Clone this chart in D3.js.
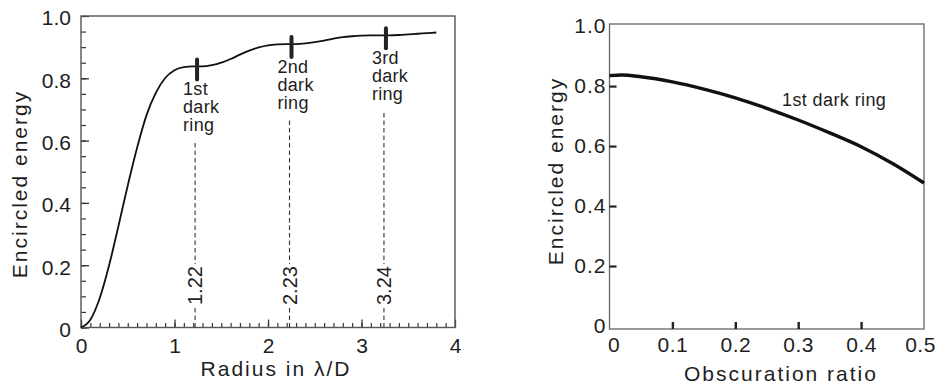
<!DOCTYPE html>
<html>
<head>
<meta charset="utf-8">
<script src="https://cdn.jsdelivr.net/npm/d3@7"></script>
<style>
  html, body { margin: 0; padding: 0; background: #fff; }
  svg { display: block; }
  text { font-family: "Liberation Sans", Arial, Helvetica, sans-serif; fill: #1e1e1e; }
</style>
</head>
<body>
<svg id="chart" width="937" height="385"></svg>
<script>
// ---------- data ----------
const radius = [0,0.1,0.2,0.3,0.4,0.5,0.6,0.7,0.8,0.9,1.0,1.1,1.2,1.3,1.4,1.5,1.6,1.7,1.8,1.9,
                2.0,2.1,2.2,2.3,2.4,2.5,2.6,2.7,2.8,2.9,3.0,3.1,3.2,3.3,3.4,3.5,3.6,3.7,3.8];
const energy = [0,0.025,0.094,0.199,0.325,0.456,0.577,0.681,0.753,0.801,0.826,0.836,0.838,0.838,
                0.842,0.850,0.862,0.876,0.889,0.899,0.906,0.909,0.910,0.910,0.912,0.916,0.921,
                0.927,0.932,0.935,0.937,0.938,0.938,0.938,0.939,0.941,0.943,0.945,0.947];
const ringRadius = [1.22, 2.23, 3.24];
const ringEnergy = [0.838, 0.910, 0.938];
const ringNames = [["1st","dark","ring"],["2nd","dark","ring"],["3rd","dark","ring"]];
const ringValueLabels = ["1.22","2.23","3.24"];
const xTicksLeft = [0,1,2,3,4];
const yTicksLeft = [0,0.2,0.4,0.6,0.8,1.0];
const yTickLabelsLeft = ["0","0.2","0.4","0.6","0.8","1.0"];

const obscuration = [0,0.02,0.05,0.1,0.15,0.2,0.25,0.3,0.35,0.4,0.45,0.5];
const obscEnergy  = [0.835,0.837,0.831,0.814,0.790,0.761,0.726,0.687,0.644,0.598,0.542,0.477];
const xTicksRight = [0,0.1,0.2,0.3,0.4,0.5];
const xTickLabelsRight = ["0","0.1","0.2","0.3","0.4","0.5"];
const yTicksRight = [0,0.2,0.4,0.6,0.8,1.0];
const yTickLabelsRight = ["0","0.2","0.4","0.6","0.8","1.0"];
const curveLabelRight = "1st dark ring";

// ---------- setup ----------
const svg = d3.select("#chart");
const frameColor = "#555";

// ===== Left panel =====
const x = d3.scaleLinear([0, 4], [81, 455]);
const y = d3.scaleLinear([0, 1], [327.5, 16]);
const L = svg.append("g");

// minor ticks
L.append("g").attr("transform", `translate(0,${y(0)})`)
  .call(d3.axisBottom(x).tickValues(d3.range(0, 40).map(i => i / 10)).tickSize(-4.5).tickFormat(""))
  .call(g => g.select(".domain").remove())
  .call(g => g.selectAll("line").attr("stroke", "#333").attr("stroke-width", 1.2));
L.append("g").attr("transform", `translate(0,${y(0)})`)
  .call(d3.axisBottom(x).tickValues(xTicksLeft).tickSize(-8).tickPadding(11).tickFormat(d3.format("d")))
  .call(g => g.select(".domain").remove())
  .call(g => g.selectAll("line").attr("stroke", "#333").attr("stroke-width", 1.3))
  .call(g => g.selectAll("text").attr("font-size", 21).attr("fill", "#1e1e1e").attr("font-family", null));

L.append("g").attr("transform", `translate(${x(0)},0)`)
  .call(d3.axisLeft(y).tickValues(d3.range(0, 20).map(i => i / 20)).tickSize(-5).tickFormat(""))
  .call(g => g.select(".domain").remove())
  .call(g => g.selectAll("line").attr("stroke", "#333").attr("stroke-width", 1.2));
L.append("g").attr("transform", `translate(${x(0)},0)`)
  .call(d3.axisLeft(y).tickValues(yTicksLeft).tickSize(-8).tickPadding(10).tickFormat((d, i) => yTickLabelsLeft[i]))
  .call(g => g.select(".domain").remove())
  .call(g => g.selectAll("line").attr("stroke", "#333").attr("stroke-width", 1.3))
  .call(g => g.selectAll("text").attr("font-size", 21).attr("fill", "#1e1e1e").attr("font-family", null).attr("dy", "0.42em"));

// frame
L.append("rect").attr("x", x(0)).attr("y", y(1)).attr("width", x(4) - x(0)).attr("height", y(0) - y(1))
  .attr("fill", "none").attr("stroke", frameColor).attr("stroke-width", 1.4);

// dashed verticals and rotated values
ringRadius.forEach((r, i) => {
  const xr = x(r);
  const base1 = y(ringEnergy[i]) + 29;
  const top = base1 + 46;
  L.append("line").attr("x1", xr).attr("x2", xr).attr("y1", y(0)).attr("y2", top)
    .attr("stroke", "#333").attr("stroke-width", 1.1).attr("stroke-dasharray", "4.5,3");
  const g = L.append("g").attr("transform", `translate(${xr},305) rotate(-90)`);
  const t = g.append("text").attr("x", 0).attr("y", 0).attr("dy", "0.36em")
    .attr("font-size", 20).text(ringValueLabels[i]);
  const bb = t.node().getBBox();
  g.insert("rect", "text").attr("x", bb.x - 2).attr("y", bb.y).attr("width", bb.width + 4).attr("height", bb.height)
    .attr("fill", "#fff");
  // ring name labels
  const lab = L.append("text").attr("x", xr - 12).attr("y", base1).attr("font-size", 18).style("letter-spacing", "0.3px");
  ringNames[i].forEach((w, k) => lab.append("tspan").attr("x", xr - 12).attr("y", base1 + k * 18).text(w));
});

// curve
L.append("path")
  .datum(radius.map((r, i) => [r, energy[i]]))
  .attr("d", d3.line().x(d => x(d[0])).y(d => y(d[1])).curve(d3.curveMonotoneX))
  .attr("fill", "none").attr("stroke", "#111").attr("stroke-width", 1.8);

// thick ring marks
ringRadius.forEach((r, i) => {
  L.append("line").attr("x1", x(r) + 2).attr("x2", x(r) + 2)
    .attr("y1", y(ringEnergy[i]) - 7).attr("y2", y(ringEnergy[i]) + 13)
    .attr("stroke", "#222").attr("stroke-width", 4).attr("stroke-linecap", "round");
});

// axis titles
L.append("text").attr("x", 276).attr("y", 376).attr("text-anchor", "middle")
  .attr("font-size", 21).style("letter-spacing", "2px").text("Radius in λ/D");
L.append("text").attr("transform", `translate(27,${184}) rotate(-90)`).attr("text-anchor", "middle")
  .attr("font-size", 21).style("letter-spacing", "2px").text("Encircled energy");

// ===== Right panel =====
const x2 = d3.scaleLinear([0, 0.5], [609.5, 924]);
const y2 = d3.scaleLinear([-0.01, 1.007], [329, 24]);
const R = svg.append("g");

R.append("rect").attr("x", x2(0)).attr("y", y2(1.007)).attr("width", x2(0.5) - x2(0)).attr("height", y2(-0.01) - y2(1.007))
  .attr("fill", "none").attr("stroke", "#666").attr("stroke-width", 1.3);

// x ticks
R.append("g").attr("transform", `translate(0,${y2(-0.01)})`)
  .call(d3.axisBottom(x2).tickValues(xTicksRight.slice(1, 5)).tickSize(-7).tickFormat(""))
  .call(g => g.select(".domain").remove())
  .call(g => g.selectAll("line").attr("stroke", "#222").attr("stroke-width", 2.4));
R.append("g").attr("transform", `translate(0,${y2(-0.01)})`)
  .call(d3.axisBottom(x2).tickValues(xTicksRight).tickSize(0).tickPadding(8).tickFormat((d, i) => xTickLabelsRight[i]))
  .call(g => g.select(".domain").remove())
  .call(g => g.selectAll("text").attr("font-size", 21).attr("fill", "#1e1e1e").attr("font-family", null).style("letter-spacing", "0.5px")
    .attr("dx", (d, i) => i === xTicksRight.length - 1 ? -4 : (i === 0 ? 4 : 0)));

// y ticks
R.append("g").attr("transform", `translate(${x2(0)},0)`)
  .call(d3.axisLeft(y2).tickValues(yTicksRight.slice(1, 5)).tickSize(-7).tickFormat(""))
  .call(g => g.select(".domain").remove())
  .call(g => g.selectAll("line").attr("stroke", "#222").attr("stroke-width", 2.2));
R.append("g").attr("transform", `translate(${x2(0)},0)`)
  .call(d3.axisLeft(y2).tickValues(yTicksRight).tickSize(0).tickPadding(3).tickFormat((d, i) => yTickLabelsRight[i]))
  .call(g => g.select(".domain").remove())
  .call(g => g.selectAll("text").attr("font-size", 21).attr("fill", "#1e1e1e").attr("font-family", null).attr("dy", "0.3em").style("letter-spacing", "1px"));

// curve
R.append("path")
  .datum(obscuration.map((o, i) => [o, obscEnergy[i]]))
  .attr("d", d3.line().x(d => x2(d[0])).y(d => y2(d[1])).curve(d3.curveMonotoneX))
  .attr("fill", "none").attr("stroke", "#111").attr("stroke-width", 3.4);

R.append("text").attr("x", 782).attr("y", 106).attr("font-size", 18).style("letter-spacing", "0.4px").text(curveLabelRight);

// titles
R.append("text").attr("x", 781).attr("y", 381).attr("text-anchor", "middle")
  .attr("font-size", 21).style("letter-spacing", "2px").text("Obscuration ratio");
R.append("text").attr("transform", `translate(563,171) rotate(-90)`).attr("text-anchor", "middle")
  .attr("font-size", 21).style("letter-spacing", "2px").text("Encircled energy");
</script>
</body>
</html>
